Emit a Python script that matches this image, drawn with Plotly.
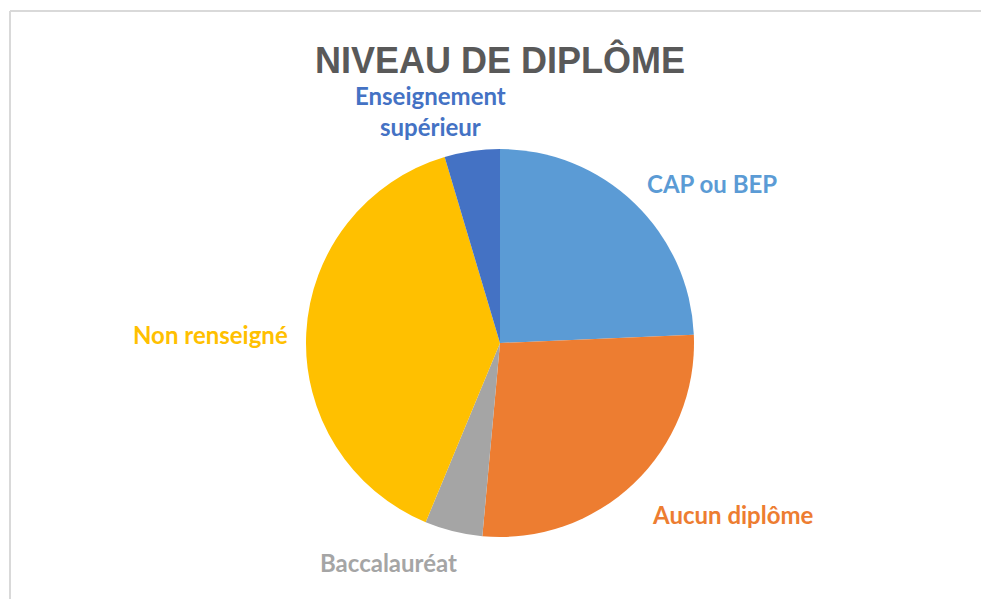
# Camembert "Niveau de diplôme"
import plotly.graph_objects as go

labels = ["CAP ou BEP", "Aucun diplôme", "Baccalauréat", "Non renseigné", "Enseignement supérieur"]
values = [24.3, 27.1, 4.8, 39.1, 4.6]
colors = ["#5B9BD5", "#ED7D31", "#A5A5A5", "#FFC000", "#4472C4"]

W, H = 981, 599

# label text and where it sits (pixels, centre of text)
label_text = ["CAP ou BEP", "Aucun diplôme", "Baccalauréat", "Non renseigné", "Enseignement<br>supérieur"]
label_pos = [(712, 183), (733, 514), (388, 562), (210, 334), (430, 111)]

fig = go.Figure(go.Pie(
    labels=labels,
    values=values,
    sort=False,
    direction="clockwise",
    rotation=0,
    marker=dict(colors=colors, line=dict(width=0)),
    textinfo="none",
    hoverinfo="label+percent",
    domain=dict(x=[306 / W, 694 / W], y=[1 - 537 / H, 1 - 149 / H]),
    showlegend=False,
))

for txt, (px_, py_), c in zip(label_text, label_pos, colors):
    fig.add_annotation(
        x=px_ / W, y=1 - py_ / H, xref="paper", yref="paper",
        text=f"<b>{txt}</b>", showarrow=False,
        xanchor="center", yanchor="middle",
        font=dict(family="Lato, 'Open Sans', sans-serif", size=24, color=c),
    )

# cadre gris du graphique (only top and left edges are visible)
fig.add_shape(type="line", xref="paper", yref="paper",
              x0=10 / W, x1=1, y0=1 - 11 / H, y1=1 - 11 / H,
              line=dict(color="#D9D9D9", width=2))
fig.add_shape(type="line", xref="paper", yref="paper",
              x0=10 / W, x1=10 / W, y0=0, y1=1 - 11 / H,
              line=dict(color="#D9D9D9", width=2))

fig.update_layout(
    width=W, height=H,
    margin=dict(l=0, r=0, t=0, b=0),
    paper_bgcolor="white",
    plot_bgcolor="white",
    title=dict(text="<b>NIVEAU DE DIPLÔME</b>", x=500 / W, xanchor="center",
               y=1 - 60 / H, yanchor="middle",
               font=dict(family="'Liberation Sans', Arial, sans-serif",
                         size=36, color="#595959")),
)

# page margin off so the figure sits at the window's top-left corner
fig.write_html("out.html", config={"displayModeBar": False},
               post_script="document.body.style.margin='0px';")
